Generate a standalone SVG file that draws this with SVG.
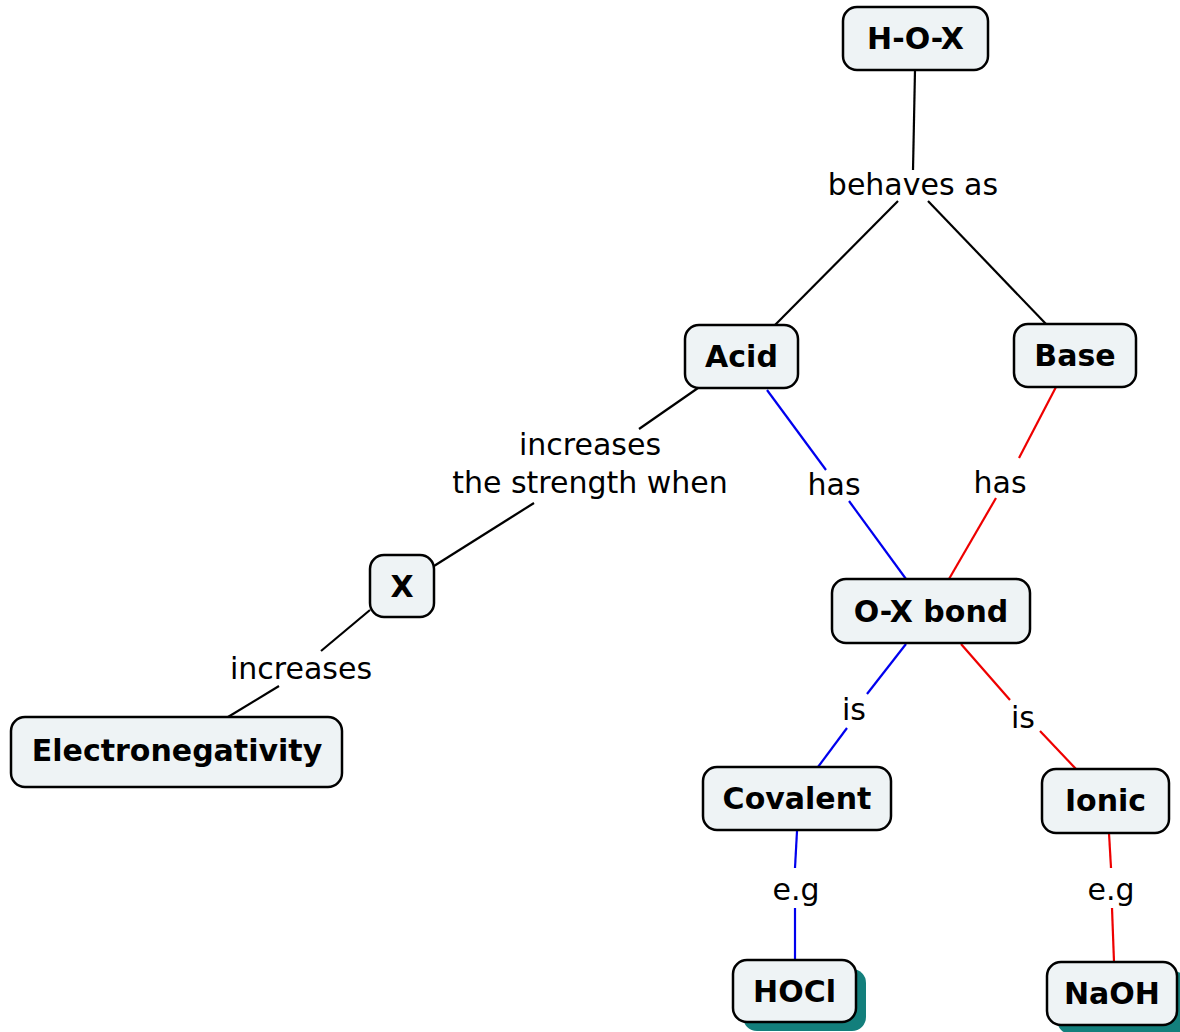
<svg xmlns="http://www.w3.org/2000/svg" width="1180" height="1032" viewBox="0 0 1180 1032">
  <defs>
    <style>
      .node rect.box { fill: #eef3f5; stroke: #000; stroke-width: 2.5; }
      .node rect.shadow { fill: #137f7c; }
      .node text { font-family: "DejaVu Sans", Verdana, sans-serif; font-weight: bold; font-size: 30px; fill: #000; text-anchor: middle; }
      .lbl { font-family: "DejaVu Sans", Verdana, sans-serif; font-size: 30px; fill: #000; text-anchor: middle; }
      .k { stroke: #000; stroke-width: 2.2; fill: none; }
      .b { stroke: #0000ee; stroke-width: 2.2; fill: none; }
      .r { stroke: #ee0000; stroke-width: 2.2; fill: none; }
    </style>
  </defs>
  <rect width="1180" height="1032" fill="#fff"/>

  <!-- connectors with their linking phrases -->
  <g id="connectors">
    <path class="k" d="M915,70 L913,170"/>
    <path class="k" d="M898,201 L775,325"/>
    <path class="k" d="M928,201 L1046,324"/>
    <text class="lbl" x="913" y="195">behaves as</text>

    <path class="k" d="M698,388 L639,429"/>
    <path class="k" d="M534,503 L434,566"/>
    <text class="lbl" x="590" y="455">increases</text>
    <text class="lbl" x="590" y="493">the strength when</text>

    <path class="b" d="M767,390 L826,470"/>
    <path class="b" d="M849,501 L906,579"/>
    <text class="lbl" x="834" y="495">has</text>

    <path class="r" d="M1056,387 L1019,458"/>
    <path class="r" d="M996,498 L949,579"/>
    <text class="lbl" x="1000" y="493">has</text>

    <path class="k" d="M370,610 L321,651"/>
    <path class="k" d="M279,686 L228,717"/>
    <text class="lbl" x="301" y="679">increases</text>

    <path class="b" d="M906,644 L867,694"/>
    <path class="b" d="M847,728 L818,767"/>
    <text class="lbl" x="854" y="720">is</text>

    <path class="r" d="M961,644 L1010,700"/>
    <path class="r" d="M1040,731 L1076,769"/>
    <text class="lbl" x="1023" y="728">is</text>

    <path class="b" d="M797,831 L795,868"/>
    <path class="b" d="M795,908 L795,960"/>
    <text class="lbl" x="796" y="900">e.g</text>

    <path class="r" d="M1109,833 L1111,868"/>
    <path class="r" d="M1112,908 L1114,962"/>
    <text class="lbl" x="1111" y="900">e.g</text>
  </g>

  <!-- concepts -->
  <g id="node-hox" class="node">
    <rect class="box" x="843" y="7" width="145" height="63" rx="14"/>
    <text x="915.5" y="49">H-O-X</text>
  </g>
  <g id="node-acid" class="node">
    <rect class="box" x="685" y="325" width="113" height="63" rx="14"/>
    <text x="741.5" y="367">Acid</text>
  </g>
  <g id="node-base" class="node">
    <rect class="box" x="1014" y="324" width="122" height="63" rx="14"/>
    <text x="1075" y="366">Base</text>
  </g>
  <g id="node-x" class="node">
    <rect class="box" x="370" y="555" width="64" height="62" rx="14"/>
    <text x="402" y="597">X</text>
  </g>
  <g id="node-electronegativity" class="node">
    <rect class="box" x="11" y="717" width="331" height="70" rx="14"/>
    <text x="177" y="761">Electronegativity</text>
  </g>
  <g id="node-oxbond" class="node">
    <rect class="box" x="832" y="579" width="198" height="64" rx="14"/>
    <text x="931" y="622">O-X bond</text>
  </g>
  <g id="node-covalent" class="node">
    <rect class="box" x="703" y="767" width="188" height="63" rx="14"/>
    <text x="797" y="809">Covalent</text>
  </g>
  <g id="node-ionic" class="node">
    <rect class="box" x="1042" y="769" width="127" height="64" rx="14"/>
    <text x="1105.5" y="811">Ionic</text>
  </g>
  <g id="node-hocl" class="node">
    <rect class="shadow" x="743" y="969" width="123" height="62" rx="14"/>
    <rect class="box" x="733" y="960" width="123" height="62" rx="14"/>
    <text x="794.5" y="1002">HOCl</text>
  </g>
  <g id="node-naoh" class="node">
    <rect class="shadow" x="1057" y="971" width="130" height="63" rx="14"/>
    <rect class="box" x="1047" y="962" width="130" height="63" rx="14"/>
    <text x="1112" y="1004">NaOH</text>
  </g>
</svg>
